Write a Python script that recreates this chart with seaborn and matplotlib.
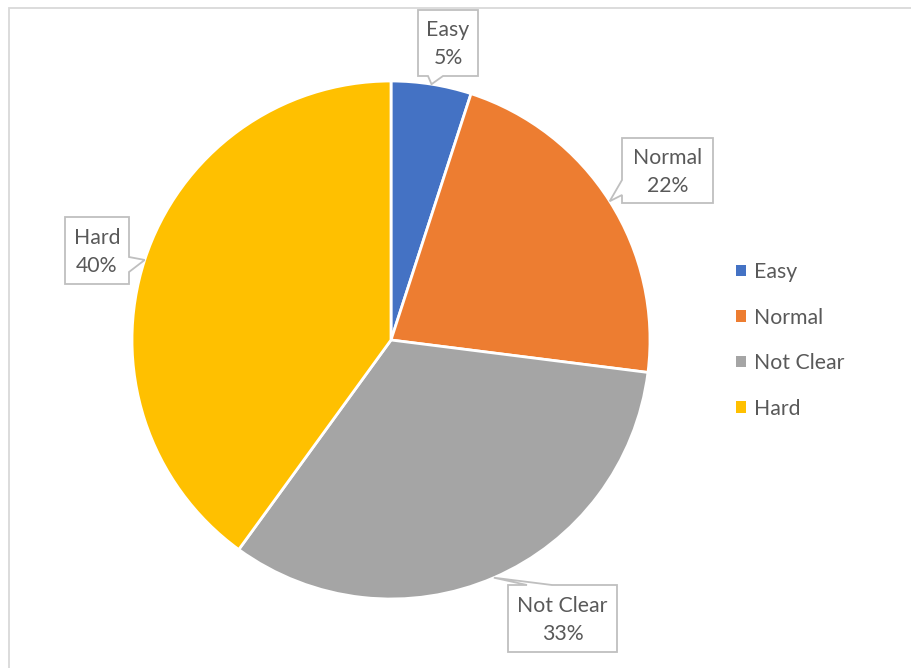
import matplotlib
matplotlib.use("Agg")
import matplotlib.pyplot as plt
import numpy as np
import seaborn as sns
from matplotlib.patches import Polygon, Patch, Rectangle

# Survey answers: how hard was it?
categories = ["Easy", "Normal", "Not Clear", "Hard"]
shares = [5, 22, 33, 40]
colors = ["#4472C4", "#ED7D31", "#A5A5A5", "#FFC000"]

sns.set_theme(style="white")
plt.rcParams["font.family"] = ["Lato", "DejaVu Sans"]

W, H = 911, 668
fig = plt.figure(figsize=(W / 100, H / 100), dpi=100)
ax = fig.add_axes([0, 0, 1, 1])

cx, cy, R = 391, 340, 259          # pie centre / radius in pixel units (y down)
TEXT = "#595959"
EDGE = "#BFBFBF"
FS = 15.3


def Y(y):
    """pixel row (top-down) -> data y"""
    return H - y


wedges, _ = ax.pie(
    shares, colors=colors, startangle=90, counterclock=False,
    center=(cx, Y(cy)), radius=R,
    wedgeprops=dict(edgecolor="white", linewidth=2.0),
)

# callout boxes: (left, top, right, bottom), pointer side, pointer base span
callouts = {
    "Easy":      ((418, 10, 478, 76), "bottom", (428, 443)),
    "Normal":    ((622, 138, 713, 203), "left", (180, 195)),
    "Not Clear": ((508, 585, 617, 652), "top", (527, 552)),
    "Hard":      ((65, 217, 129, 284), "right", (257, 272)),
}

for w, cat, val in zip(wedges, categories, shares):
    mid = np.deg2rad((w.theta1 + w.theta2) / 2)
    tx = cx + R * np.cos(mid)
    ty = cy - R * np.sin(mid)
    (x0, y0, x1, y1), side, (a, b) = callouts[cat]
    if side == "bottom":
        pts = [(x0, y0), (x1, y0), (x1, y1), (b, y1), (tx, ty), (a, y1), (x0, y1)]
    elif side == "top":
        pts = [(x0, y0), (a, y0), (tx, ty), (b, y0), (x1, y0), (x1, y1), (x0, y1)]
    elif side == "left":
        pts = [(x0, y0), (x1, y0), (x1, y1), (x0, y1), (x0, b), (tx, ty), (x0, a)]
    else:
        pts = [(x0, y0), (x1, y0), (x1, a), (tx, ty), (x1, b), (x1, y1), (x0, y1)]
    ax.add_patch(Polygon([(px, Y(py)) for px, py in pts], closed=True,
                         facecolor="white", edgecolor=EDGE, linewidth=1.3,
                         zorder=5))
    ax.text((x0 + x1) / 2, Y((y0 + y1) / 2 + 1), f"{cat}\n{val}%",
            ha="center", va="center", color=TEXT, fontsize=FS,
            linespacing=1.5, zorder=6)

# chart frame
ax.add_patch(Rectangle((9, Y(H + 20)), W + 20, H + 20 - 8, fill=False,
                       edgecolor="#D9D9D9", linewidth=1.3, zorder=0))

handles = [Patch(facecolor=c, edgecolor="none") for c in colors]
fig.legend(handles, categories, loc="center left",
           bbox_to_anchor=(736 / W, 1 - 340.5 / H), frameon=False,
           fontsize=FS, labelcolor=TEXT, handlelength=0.45,
           handleheight=0.45, handletextpad=0.4, labelspacing=1.2,
           borderpad=0, borderaxespad=0)

ax.set_xlim(0, W)
ax.set_ylim(0, H)
ax.set_aspect("equal")
ax.axis("off")

fig.savefig("out.png", dpi=100, facecolor="white")
